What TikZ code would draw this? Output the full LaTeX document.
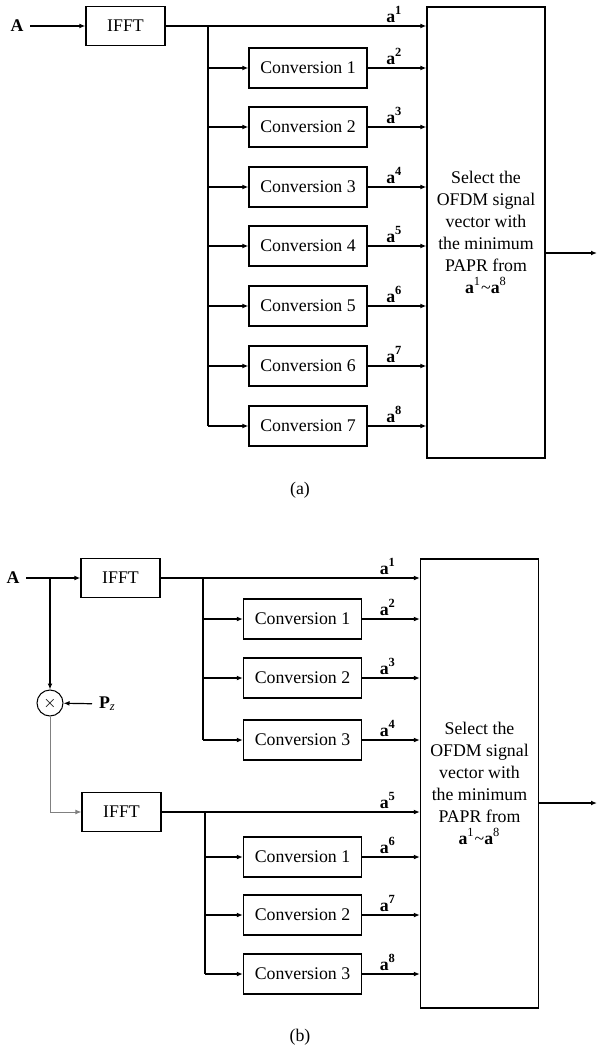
\documentclass[tikz,border=0pt]{standalone}
\usepackage{fontspec}
\setmainfont{Liberation Serif}
\usetikzlibrary{arrows.meta}

\newcommand{\sigvec}[1]{\textbf{a}\textsuperscript{\textbf{#1}}}

\tikzset{
    txt/.style={font=\fontsize{8.9}{11}\selectfont},
    blk/.style={txt, draw, line width=0.6pt, minimum width=59pt,
        minimum height=20pt, inner sep=0pt},
    fftblk/.style={blk, minimum width=39.5pt, minimum height=19.5pt},
    selblk/.style={blk, align=center},
    mul/.style={draw, circle, line width=0.5pt, minimum size=13pt,
        inner sep=0pt, font=\fontsize{8}{8}\selectfont},
    ln/.style={line width=0.6pt},
    arr/.style={ln, -{Latex[length=3pt, width=2.4pt]}},
    lbl/.style={txt, anchor=south, xshift=-16pt, inner sep=1.5pt},
}

\begin{document}
\begin{tikzpicture}[x=0.5pt, y=-0.5pt]
    \useasboundingbox (0,0) rectangle (598,1053);

    % (a): one IFFT feeding seven conversions
    \node[txt] (Aa) at (17,26) {\textbf{A}};
    \node[fftblk] (ffta) at (125.5,26) {IFFT};
    \node[selblk, minimum height=225.5pt] (sela) at (486,232.5)
        {Select the\\OFDM signal\\vector with\\the minimum\\PAPR from\\
         \textbf{a}\textsuperscript{1}\textasciitilde\textbf{a}\textsuperscript{8}};
    \coordinate (outa) at (597,253);
    \coordinate (bra) at (208,26);
    \draw[arr] (Aa) -- (ffta);
    \draw[arr] (ffta) -- (ffta -| sela.west) node[lbl] {\sigvec{1}};
    \foreach \k/\y in {1/68, 2/127, 3/187, 4/246, 5/306, 6/366, 7/426} {
        \pgfmathtruncatemacro{\m}{\k+1}
        \node[blk] (cva\k) at (308,\y) {Conversion \k};
        \draw[arr] (bra |- cva\k) -- (cva\k);
        \draw[arr] (cva\k) -- (cva\k -| sela.west) node[lbl] {\sigvec{\m}};
    }
    \draw[ln] (bra) -- (bra |- cva7);
    \draw[arr] (sela.east |- outa) -- (outa);
    \node[txt] (capa) at (300,490) {(a)};

    % (b): second IFFT branch after the multiplication by P_z
    \node[txt] (Ab) at (13,578) {\textbf{A}};
    \node[fftblk] (fftb) at (120.5,578) {IFFT};
    \node[fftblk] (fftc) at (121.5,812) {IFFT};
    \node[selblk, minimum height=224.5pt] (selb) at (479.5,783.5)
        {Select the\\OFDM signal\\vector with\\the minimum\\PAPR from\\
         \textbf{a}\textsuperscript{1}\textasciitilde\textbf{a}\textsuperscript{8}};
    \node[mul] (mix) at (50,703) {$\times$};
    \node[txt, anchor=west] (Pz) at (92,704) {\textbf{P}\textsubscript{\textit{z}}};
    \coordinate (jb) at (50,578);
    \coordinate (outb) at (597,803);
    \coordinate (brb) at (203,578);
    \coordinate (brc) at (205,812);
    \draw[arr] (Ab) -- (fftb);
    \draw[arr] (jb) -- (mix);
    \draw[arr] (Pz) -- (mix);
    \draw[arr, draw=gray, line width=0.4pt] (mix) |- (fftc);
    \draw[arr] (fftb) -- (fftb -| selb.west) node[lbl] {\sigvec{1}};
    \draw[arr] (fftc) -- (fftc -| selb.west) node[lbl] {\sigvec{5}};
    \foreach \k/\y in {1/619, 2/678, 3/740} {
        \pgfmathtruncatemacro{\m}{\k+1}
        \node[blk] (cvb\k) at (302.5,\y) {Conversion \k};
        \draw[arr] (brb |- cvb\k) -- (cvb\k);
        \draw[arr] (cvb\k) -- (cvb\k -| selb.west) node[lbl] {\sigvec{\m}};
    }
    \foreach \k/\y in {1/857, 2/915, 3/974} {
        \pgfmathtruncatemacro{\m}{\k+5}
        \node[blk] (cvc\k) at (302.5,\y) {Conversion \k};
        \draw[arr] (brc |- cvc\k) -- (cvc\k);
        \draw[arr] (cvc\k) -- (cvc\k -| selb.west) node[lbl] {\sigvec{\m}};
    }
    \draw[ln] (brb) -- (brb |- cvb3);
    \draw[ln] (brc) -- (brc |- cvc3);
    \draw[arr] (selb.east |- outb) -- (outb);
    \node[txt] (capb) at (300,1037) {(b)};
\end{tikzpicture}
\end{document}
